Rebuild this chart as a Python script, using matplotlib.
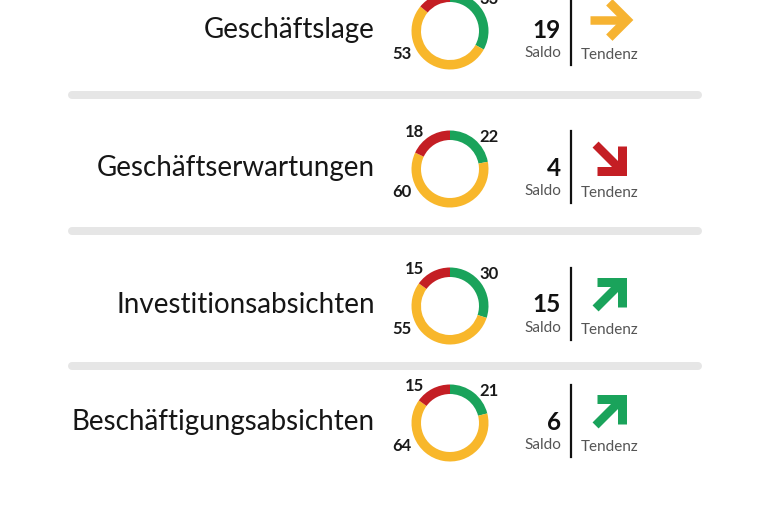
import numpy as np
import matplotlib
matplotlib.use('Agg')
from matplotlib import pyplot as plt

# data per row
labels = ['Geschäftslage', 'Geschäftserwartungen', 'Investitionsabsichten', 'Beschäftigungsabsichten']
gruen = [33, 22, 30, 21]
gelb = [53, 60, 55, 64]
rot = [14, 18, 15, 15]
saldo = [19, 4, 15, 6]
tendenz = ['gleich', 'runter', 'hoch', 'hoch']

c_gruen = '#1aa35b'
c_gelb = '#f8b72b'
c_rot = '#c41e24'
arrow_style = {'gleich': (0, '#f6b332'), 'runter': (45, c_rot), 'hoch': (-45, c_gruen)}

plt.rcParams['font.family'] = ['Lato', 'DejaVu Sans']

W, H = 767, 512
fig = plt.figure(figsize=(W / 100, H / 100), dpi=100)
ax = fig.add_axes([0, 0, 1, 1])

row_y = [31, 169, 306, 423]
sep_y = [94.5, 231, 366]
px = 0.72  # pixel -> points at dpi 100

# separators
for y in sep_y:
    ax.plot([72, 698], [y, y], color='#e6e6e6', lw=8 * px, solid_capstyle='round')

for i, cy in enumerate(row_y):
    # label
    ax.text(375, cy - 1, labels[i], ha='right', va='center', fontsize=20, color='#161616')

    # donut
    ax.pie([gruen[i], gelb[i], rot[i]], colors=[c_gruen, c_gelb, c_rot],
           center=(450, cy), radius=38.5, startangle=-90, counterclock=True,
           wedgeprops=dict(width=9.5, linewidth=0), frame=True)
    ax.text(414, cy - 37, str(rot[i]), ha='center', va='center', fontsize=12, fontweight='bold', color='#1a1a1a')
    ax.text(489, cy - 32, str(gruen[i]), ha='center', va='center', fontsize=12, fontweight='bold', color='#1a1a1a')
    ax.text(402, cy + 23, str(gelb[i]), ha='center', va='center', fontsize=12, fontweight='bold', color='#1a1a1a')

    # saldo
    ax.text(561, cy - 1, str(saldo[i]), ha='right', va='center', fontsize=17.5, fontweight='bold', color='#111111')
    ax.text(561, cy + 22, 'Saldo', ha='right', va='center', fontsize=11, color='#555555')
    ax.plot([571, 571], [cy - 38, cy + 34], color='#111111', lw=1.6)
    ax.text(581, cy + 24, 'Tendenz', ha='left', va='center', fontsize=11, color='#555555')

    # tendency arrow
    ang, col = arrow_style[tendenz[i]]
    a = np.deg2rad(ang)
    d = np.array([np.cos(a), np.sin(a)])
    ctr = np.array([609, cy - 11])
    tip = ctr + 18 * d
    start = ctr - 19 * d
    ax.plot([start[0], tip[0] - 4 * d[0]], [start[1], tip[1] - 4 * d[1]], color=col, lw=8.5 * px, solid_capstyle='butt')
    arms = []
    for s in (1, -1):
        b = a + np.pi + s * np.pi / 4
        arms.append(tip + 25 * np.array([np.cos(b), np.sin(b)]))
    ax.plot([arms[0][0], tip[0], arms[1][0]], [arms[0][1], tip[1], arms[1][1]], color=col,
            lw=9 * px, solid_joinstyle='miter', solid_capstyle='butt')

ax.set_xlim(0, W)
ax.set_ylim(H, 0)
ax.set_aspect('auto')
ax.axis('off')
fig.savefig('out.png', dpi=100)
